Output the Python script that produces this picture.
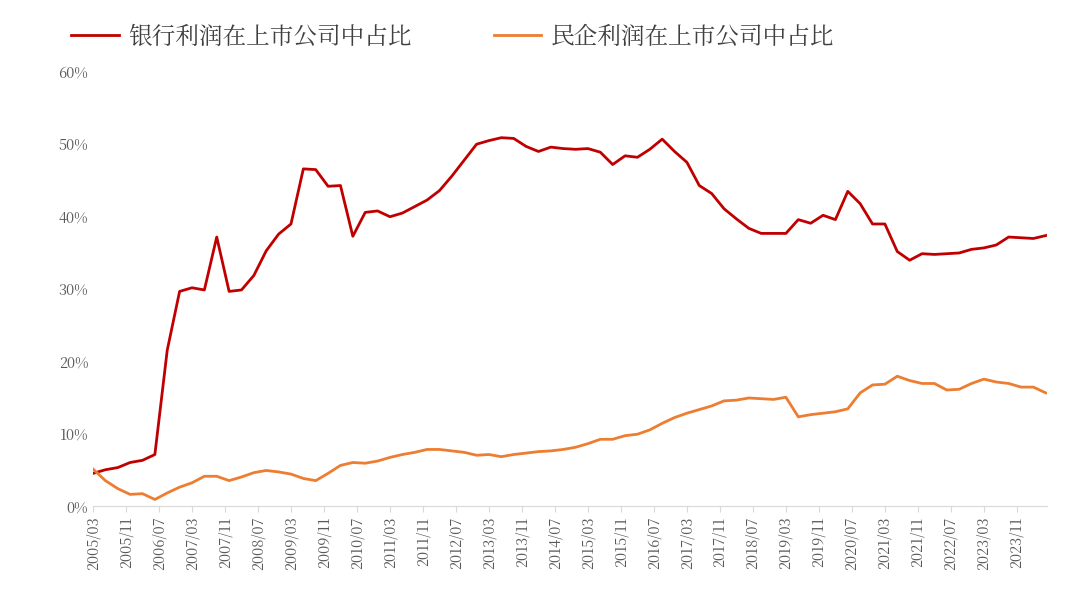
import numpy as np, pandas as pd, seaborn as sns, matplotlib
matplotlib.use("Agg")
import matplotlib.pyplot as plt
from matplotlib import font_manager as fm
from matplotlib.ticker import FuncFormatter, FixedLocator

cjk = None
for f in fm.fontManager.ttflist:
    if "CJK" in f.name and ("SC" in f.name or cjk is None):
        cjk = f.name
        if "SC" in f.name:
            break
plt.rcParams["font.family"] = "sans-serif"
plt.rcParams["font.sans-serif"] = [cjk or "Noto Sans CJK SC", "DejaVu Sans"]

bank = [4.5,5.0,5.3,6.0,6.3,7.1,21.5,29.6,30.1,29.8,37.1,29.6,29.8,31.8,35.2,37.5,38.9,46.5,46.4,44.1,
        44.2,37.2,40.5,40.7,39.9,40.4,41.3,42.2,43.5,45.5,47.7,49.9,50.4,50.8,50.7,49.6,48.9,49.5,49.3,49.2,
        49.3,48.8,47.1,48.3,48.1,49.2,50.6,48.9,47.4,44.2,43.1,41.0,39.6,38.3,37.6,37.6,37.6,39.5,39.0,40.1,
        39.5,43.4,41.7,38.9,38.9,35.1,33.9,34.8,34.7,34.8,34.9,35.4,35.6,36.0,37.1,37.0,36.9,37.3]
private = [5.1,3.5,2.4,1.6,1.7,0.9,1.8,2.6,3.2,4.1,4.1,3.5,4.0,4.6,4.9,4.7,4.4,3.8,3.5,4.5,
           5.6,6.0,5.9,6.2,6.7,7.1,7.4,7.8,7.8,7.6,7.4,7.0,7.1,6.8,7.1,7.3,7.5,7.6,7.8,8.1,
           8.6,9.2,9.2,9.7,9.9,10.5,11.4,12.2,12.8,13.3,13.8,14.5,14.6,14.9,14.8,14.7,15.0,12.3,12.6,12.8,
           13.0,13.4,15.6,16.7,16.8,17.9,17.3,16.9,16.9,16.0,16.1,16.9,17.5,17.1,16.9,16.4,16.4,15.6]
tick_labels = [f"{2005 + (2+8*k)//12}/{(2+8*k)%12+1:02d}" for k in range(29)]
tick_pos = [8*k/3 for k in range(29)]

df = pd.DataFrame({"idx": list(range(len(bank)))*2,
                   "val": bank + private,
                   "series": ["银行利润在上市公司中占比"]*len(bank) + ["民企利润在上市公司中占比"]*len(private)})

fig = plt.figure(figsize=(10.8, 6.14), dpi=100)
ax = fig.add_axes([93/1080, 1-506/614, (1047-93)/1080, (506-71)/614])
sns.lineplot(data=df, x="idx", y="val", hue="series",
             palette=["#C00000", "#ED7D31"], linewidth=2, ax=ax)
ax.set_xlim(0, len(bank)-1+0.1)
ax.set_ylim(0, 60)
ax.set_yticks(range(0, 61, 10))
ax.yaxis.set_major_formatter(FuncFormatter(lambda v, p: f"{int(v)}%"))
ax.xaxis.set_major_locator(FixedLocator(tick_pos))
ax.set_xticklabels(tick_labels, rotation=90)
ax.tick_params(axis="both", labelsize=10.5, colors="#595959", length=0)
ax.tick_params(axis="x", length=4, color="#D9D9D9")
ax.set_xlabel(""); ax.set_ylabel("")
for s in ["top", "right", "left"]:
    ax.spines[s].set_visible(False)
ax.spines["bottom"].set_color("#D9D9D9")
leg = ax.legend(loc="lower left", bbox_to_anchor=(-0.045, 1.0), ncol=2, frameon=False,
                fontsize=17, handlelength=2.0, handletextpad=0.4, columnspacing=3.5)
for t in leg.get_texts():
    t.set_color("#404040")
fig.savefig("out.png", dpi=100)
